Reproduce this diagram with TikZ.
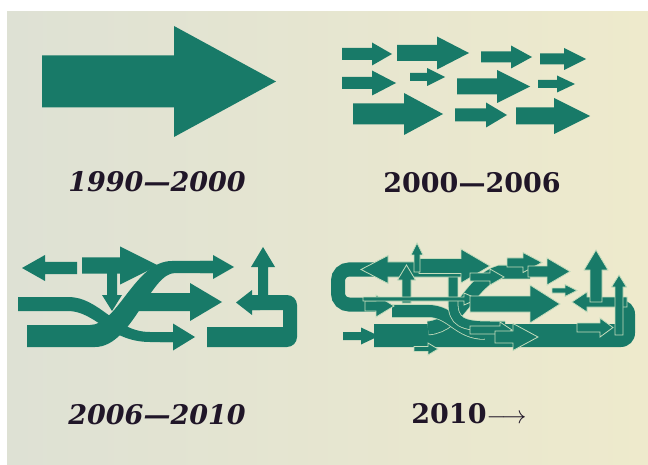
\documentclass[tikz,border=0pt]{standalone}
\usepackage{fontspec}
\newfontfamily\yearfont{DejaVu Serif}
\definecolor{teal0}{RGB}{24,122,104}
\definecolor{paperA}{RGB}{222,225,212}
\definecolor{paperB}{RGB}{238,234,204}
\definecolor{seam}{RGB}{196,220,188}
\definecolor{ink}{RGB}{32,22,40}
% horizontal arrow: [style]{x start}{x head base}{x tip}{y centre}{half shaft}{half head}
\newcommand\harr[7][fill=teal0]{\path[#1] (#2,{#5-#6}) -- (#3,{#5-#6}) -- (#3,{#5-#7}) -- (#4,#5) -- (#3,{#5+#7}) -- (#3,{#5+#6}) -- (#2,{#5+#6}) -- cycle;}
% vertical arrow: [style]{y start}{y head base}{y tip}{x centre}{half shaft}{half head}
\newcommand\varr[7][fill=teal0]{\path[#1] ({#5-#6},#2) -- ({#5-#6},#3) -- ({#5-#7},#3) -- (#5,#4) -- ({#5+#7},#3) -- ({#5+#6},#3) -- ({#5+#6},#2) -- cycle;}
\tikzset{
  outl/.style={fill=teal0, draw=seam, line width=0.8pt, line join=miter},
  oband/.style={draw=seam, line width=0.8pt, double=teal0, double distance=#1},
  lbl/.style={text=ink, inner sep=0pt, font=\yearfont\bfseries\fontsize{27}{31}\selectfont},
  lbli/.style={lbl, font=\yearfont\bfseries\itshape\fontsize{27}{31}\selectfont},
}
\begin{document}
\begin{tikzpicture}[x=1pt,y=-1pt]
\useasboundingbox (0,0) rectangle (648,465);
\fill[white] (0,0) rectangle (648,465);
\shade[left color=paperA, right color=paperB] (7,12) rectangle (648,465);

% ---------- panel 1 : 1990-2000 ----------
\harr{42}{174}{276}{81.5}{26}{55.5}
\node[lbli] (t1) at (157,182) {1990—2000};

% ---------- panel 2 : 2000-2006 ----------
\harr{342}{372}{392}{54}{6}{11.5}
\harr{397}{437}{469}{53}{8}{16.5}
\harr{481}{511}{532}{57}{5.5}{11.5}
\harr{540}{564}{586}{59}{5.5}{11}
\harr{342}{372}{396}{83}{6}{12.5}
\harr{410}{427}{445}{77}{4}{9}
\harr{457}{497}{530}{86.5}{8}{16.5}
\harr{538}{557}{575}{84}{4}{8.5}
\harr{353}{404}{443}{114}{10.5}{21}
\harr{455}{486}{507}{115}{6.5}{12.5}
\harr{516}{554}{590}{116}{8.5}{18}
\node[lbl] (t2) at (472,183) {2000—2006};

% ---------- panel 3 : 2006-2010 ----------
\harr{77}{45}{22}{268}{6}{13}
\harr{82}{120}{158}{265.5}{8}{19}
\varr{272}{295}{311}{112}{5}{10}
% band from lower left rising to the top right arrow
\fill[teal0] (27,325) -- (90,325) .. controls (118,325) and (135,261) .. (172,261) -- (214,261)
  -- (214,273) -- (175,273) .. controls (150,273) and (132,347) .. (95,347) -- (27,347) -- cycle;
\harr{200}{213}{234}{267}{6}{12}
% band from upper left falling to the lower arrow
\fill[teal0] (18,297) -- (68,297) .. controls (100,297) and (115,332) .. (150,332) -- (174,332)
  -- (174,342) -- (150,342) .. controls (110,342) and (95,311) .. (68,311) -- (18,311) -- cycle;
\harr{160}{173}{195}{337}{5}{13.5}
\harr{135}{190}{222}{302}{9}{19}
% hook on the right
\fill[teal0] (207,327) -- (283,327) -- (283,310) -- (250,310) -- (250,295)
  [rounded corners=10] -- (297,295) -- (297,347) [sharp corners] -- (207,347) -- cycle;
\harr{260}{252}{236}{302.5}{7.5}{12.5}
\varr{300}{267}{247}{263}{5}{12}
\node[lbli] (t3) at (157,415) {2006—2010};

% ---------- panel 4 : 2010 -> ----------
\fill[teal0] (374,324) -- (622,324) -- (622,300) [rounded corners=14] -- (635,300) -- (635,347) [sharp corners] -- (374,347) -- cycle;
\draw[teal0, line width=14pt, rounded corners=11] (376,269.5) -- (338,269.5) -- (338,304.5) -- (380,304.5);
\draw[oband=13pt] (428,328) .. controls (460,326) and (470,280) .. (500,272) -- (530,272);
\draw[oband=12pt] (392,311) -- (428,311) .. controls (452,311) and (458,333) .. (485,333);
\draw[oband=9pt] (453,272) -- (453,302) .. controls (453,322) and (462,326) .. (490,326) -- (505,326);
\harr[outl]{466}{388}{361}{269.5}{7.5}{14}
\harr[outl]{419}{461}{490}{266}{7.5}{17}
\varr[outl]{272}{255}{243}{417}{3}{6}
\varr[outl]{303}{280}{265}{406.5}{4.5}{9}
\harr[outl]{365}{376}{394}{306}{5}{11}
\harr[outl]{363}{464}{478}{299}{2}{6}
\harr[outl]{470}{490}{504}{277}{4}{8}
\harr[outl]{507}{523}{542}{262.5}{4.5}{10}
\harr[outl]{528}{547}{570}{271.5}{5.5}{13.5}
\harr[outl]{470}{530}{560}{304}{8}{19}
\harr[outl]{552}{565}{577}{290.5}{2.5}{6}
\harr[outl]{627}{587}{572}{302}{5}{10}
\varr[outl]{302}{270}{250}{596}{6}{12}
\varr[outl]{335}{287}{275}{619}{4}{7.5}
\harr[outl]{577}{600}{613}{327.5}{4.5}{9.5}
\harr[outl]{470}{500}{512}{330}{4}{8}
\harr[outl]{495}{513}{538}{337}{6}{13.5}
\harr{343}{361}{379}{336}{4}{8.5}
\harr[outl]{414}{428}{438}{349}{2.5}{6}
\node[lbl] (t4) at (469,414) {2010$\longrightarrow$};
\end{tikzpicture}
\end{document}
